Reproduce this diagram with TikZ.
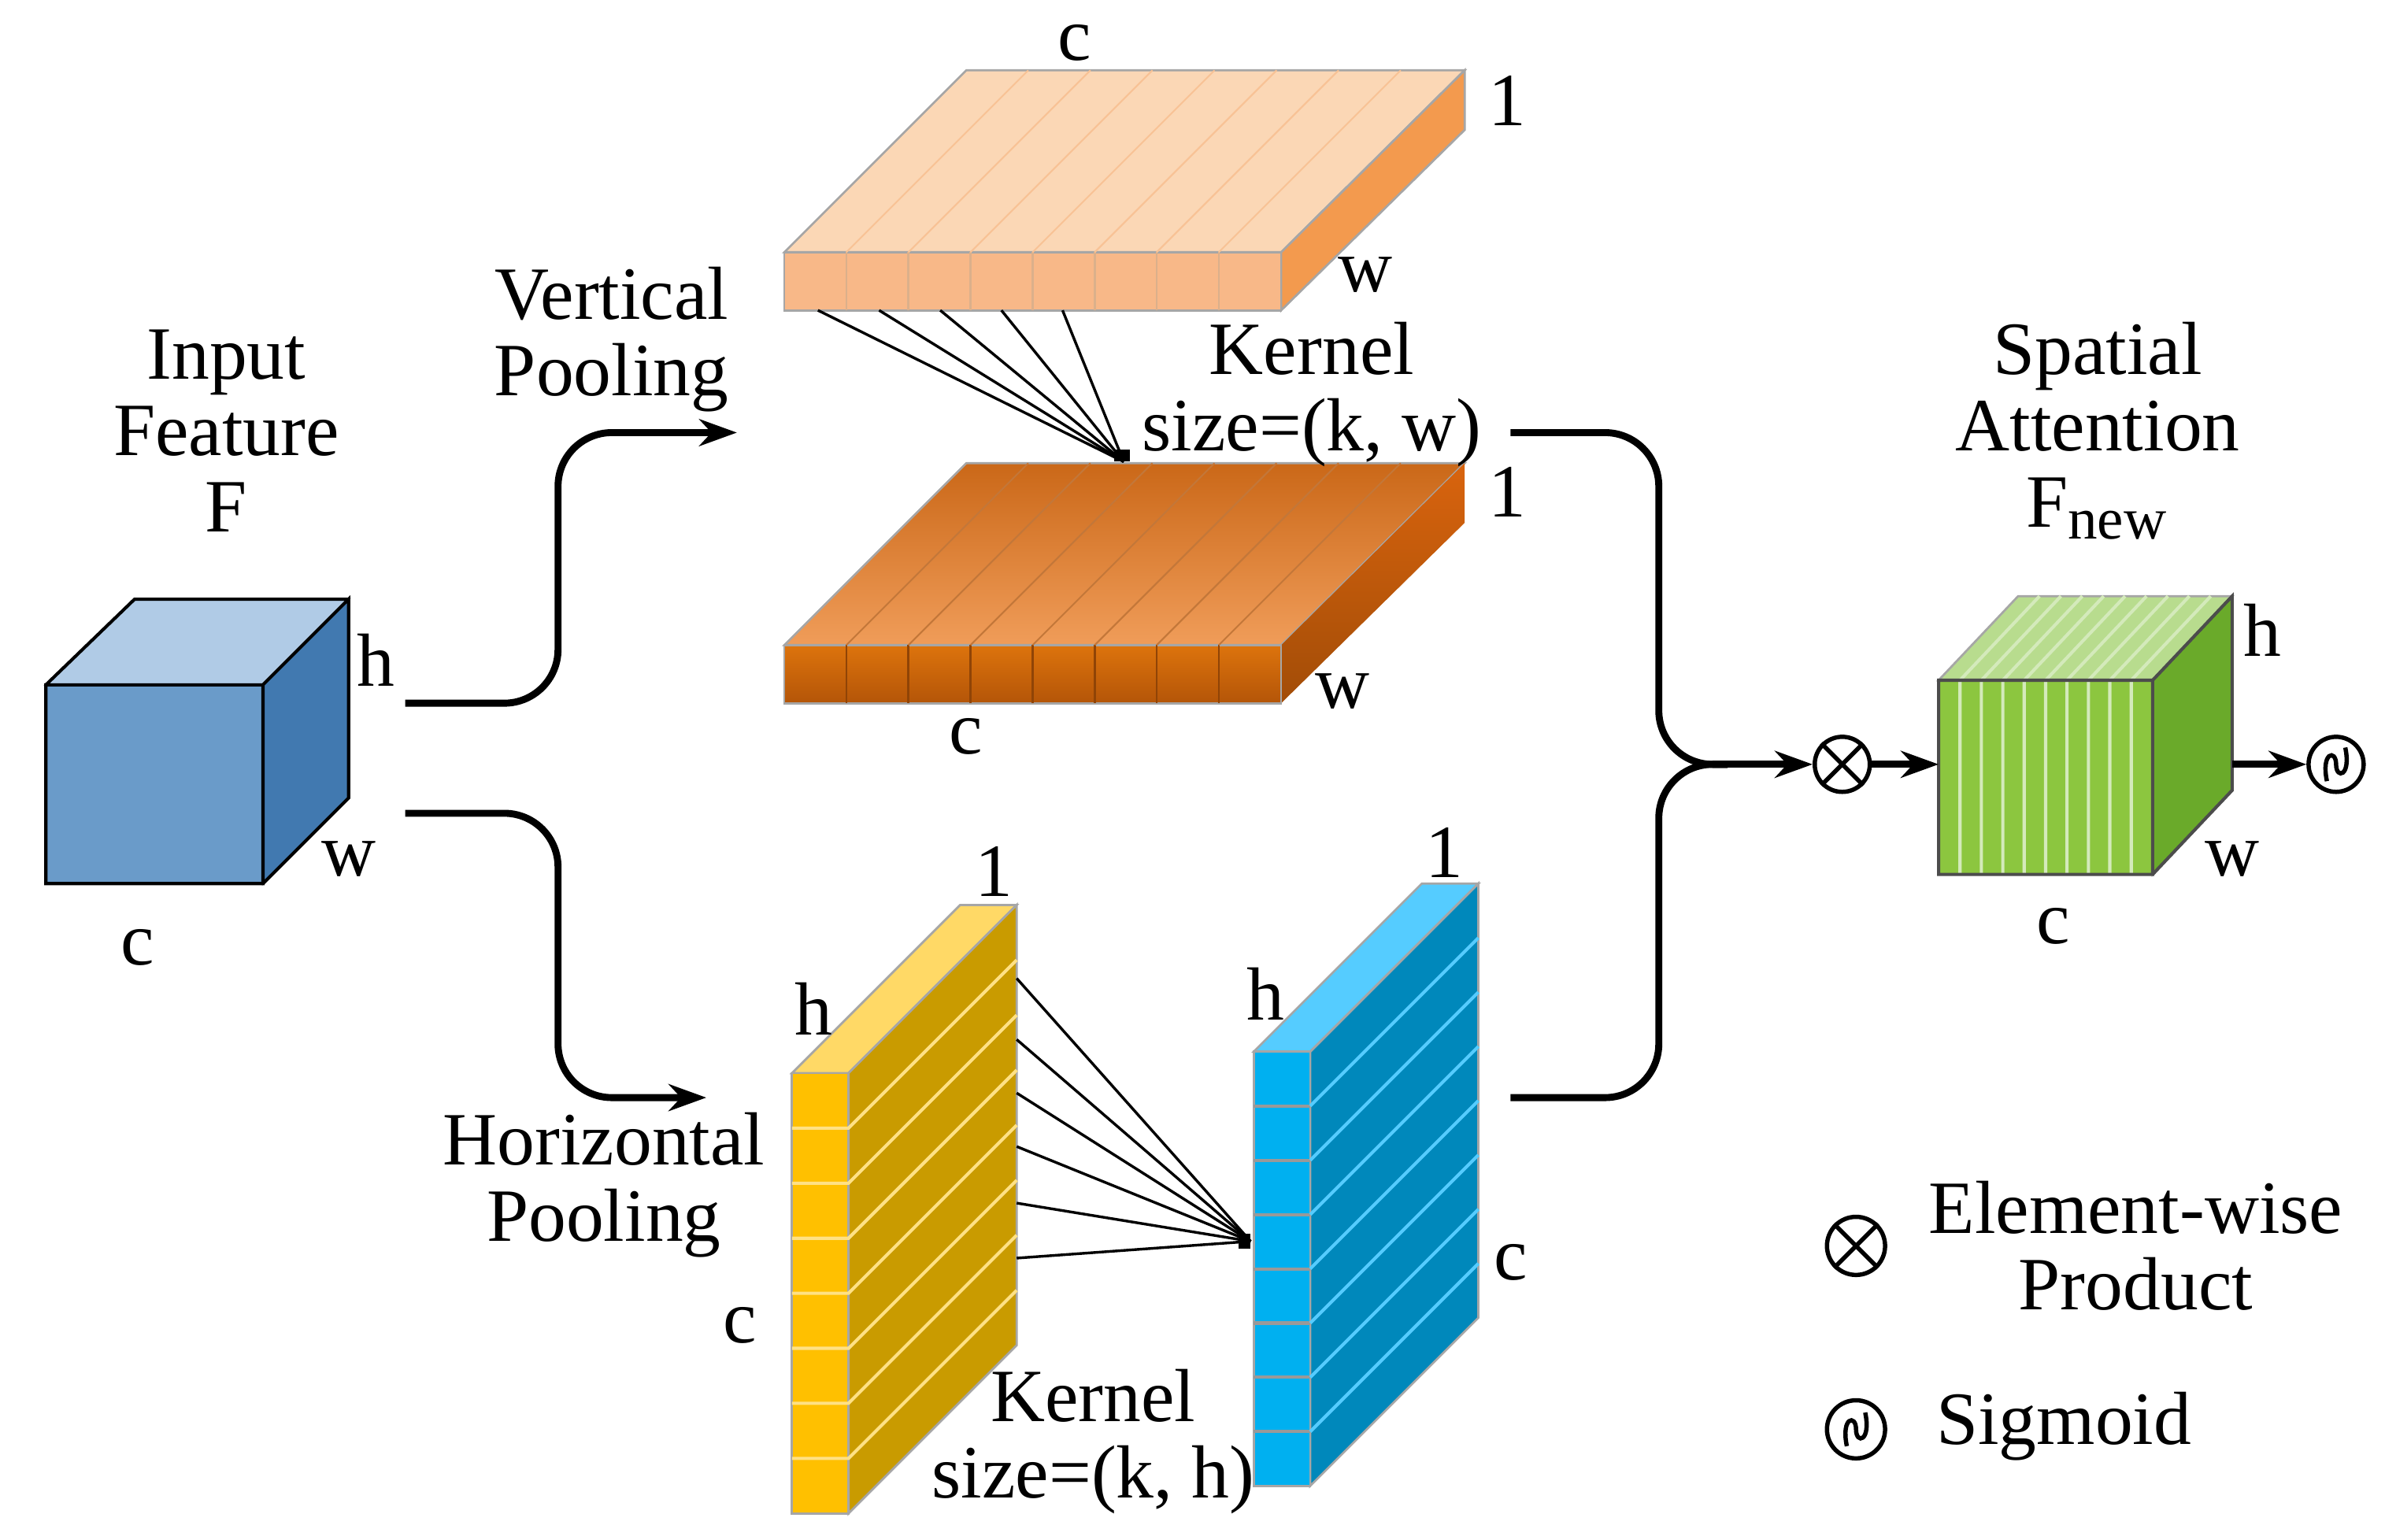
\documentclass[tikz,border=0pt]{standalone}
\usepackage{fontspec}
\setmainfont{Liberation Serif}
\usetikzlibrary{arrows.meta}
\definecolor{cubeF}{HTML}{6A9BC9}\definecolor{cubeT}{HTML}{B0CBE6}\definecolor{cubeS}{HTML}{4179B0}
\definecolor{lpF}{HTML}{F8B888}\definecolor{lpT}{HTML}{FBD7B5}\definecolor{lpS}{HTML}{F39A4E}
\definecolor{dpF}{HTML}{D9640E}\definecolor{dpT}{HTML}{EC8430}\definecolor{dpS}{HTML}{B45508}
\definecolor{yF}{HTML}{FFC000}\definecolor{yT}{HTML}{FFD966}\definecolor{yS}{HTML}{C99B00}
\definecolor{bF}{HTML}{00B0F0}\definecolor{bT}{HTML}{55CCFF}\definecolor{bS}{HTML}{0088BB}
\definecolor{gF}{HTML}{8CC63F}\definecolor{gT}{HTML}{B8DC8E}\definecolor{gS}{HTML}{6AAA2A}
\begin{document}
\begin{tikzpicture}[x=0.01cm,y=-0.01cm,
  lbl/.style={font=\fontsize{14}{14}\selectfont,inner sep=0},
  txt/.style={font=\fontsize{14}{14.2}\selectfont,align=center,inner sep=0},
  conn/.style={line width=1.3pt,rounded corners=10pt},
  arr/.style={-{Stealth[length=7pt,width=5pt]}},
  fan/.style={line width=0.5pt},
  face/.style={draw=gray!70,line width=0.4pt}]
\useasboundingbox (0,0) rectangle (1560,1007);
% input cube
\fill[cubeT,face] (30,448)--(88,392)--(228,392)--(172,448)--cycle;
\fill[cubeS,face] (172,448)--(228,392)--(228,522)--(172,578)--cycle;
\fill[cubeF,face] (30,448) rectangle (172,578);
\draw[line width=0.6pt] (30,448) rectangle (172,578) (172,448)--(228,392)--(228,522)--(172,578) (30,448)--(88,392)--(228,392);
\node[txt] (inF) at (148,282) {Input\\Feature\\F};
\node[lbl] (ih) at (246,432) {h};
\node[lbl] (iw) at (228,562) {w};
\node[lbl] (ic) at (90,620) {c};
% top light plate
\fill[lpT,face] (513,165)--(632,46)--(958,46)--(838,165)--cycle;
\fill[lpS,face] (838,165)--(958,46)--(958,85)--(838,203)--cycle;
\fill[lpF,face] (513,165) rectangle (838,203);
\foreach \i in {1,...,7}{\draw[draw=lpS!80!black!60,line width=0.4pt] ({513+\i*40.6},165)--++(0,38);
  \draw[draw=lpS!60,line width=0.3pt] ({513+\i*40.6},165)--++(119,-119);}
% bottom dark plate
\shade[top color=dpS!60!dpT,bottom color=dpT!80!white] (513,422)--(632,303)--(958,303)--(838,422)--cycle;
\draw[face] (513,422)--(632,303)--(958,303)--(838,422)--cycle;
\shade[top color=dpF,bottom color=dpS!90!black] (838,422)--(958,303)--(958,342)--(838,460)--cycle;
\shade[top color=dpF!90!yellow,bottom color=dpS] (513,422) rectangle (838,460);
\draw[face] (513,422) rectangle (838,460);
\foreach \i in {1,...,7}{\draw[draw=dpS!80!black,line width=0.4pt] ({513+\i*40.6},422)--++(0,38);
  \draw[draw=dpS!80,line width=0.3pt] ({513+\i*40.6},422)--++(119,-119);}
\coordinate (vk) at (735,302);
\foreach \x in {535,575,615,655,695}{\draw[fan] (\x,203)--(vk);}
\fill (vk) ++(-6,-8) rectangle ++(10,8);
\node[lbl] (tc) at (703,28) {c};
\node[lbl] (t1) at (986,66) {1};
\node[lbl] (tw) at (893,180) {w};
\node[txt] (vkl) at (858,258) {Kernel\\size=(k, w)};
\node[lbl] (b1) at (986,322) {1};
\node[lbl] (bw) at (878,452) {w};
\node[lbl] (bc) at (632,482) {c};
\node[txt] (vp) at (400,222) {Vertical\\Pooling};
% yellow slab
\fill[yT,face] (518,702)--(628,592)--(665,592)--(555,702)--cycle;
\fill[yS,face] (555,702)--(665,592)--(665,880)--(555,990)--cycle;
\fill[yF,face] (518,702) rectangle (555,990);
\foreach \i in {1,...,7}{\draw[draw=yT!80,line width=0.6pt] (518,{702+\i*36})--++(37,0)--++(110,-110);}
% blue slab
\fill[bT,face] (820,688)--(930,578)--(967,578)--(857,688)--cycle;
\fill[bS,face] (857,688)--(967,578)--(967,862)--(857,972)--cycle;
\fill[bF,face] (820,688) rectangle (857,972);
\foreach \i in {1,...,7}{\draw[draw=gray!80,line width=0.6pt] (820,{688+\i*35.5})--++(37,0);
  \draw[draw=bT,line width=0.6pt] (857,{688+\i*35.5})--++(110,-110);}
\coordinate (hk) at (818,812);
\foreach \y in {640,680,715,750,787,823}{\draw[fan] (665,\y)--(hk);}
\fill (hk) ++(-8,-5) rectangle ++(8,10);
\node[lbl] (y1) at (650,570) {1};
\node[lbl] (yh) at (532,660) {h};
\node[lbl] (yc) at (484,867) {c};
\node[lbl] (c1) at (945,558) {1};
\node[lbl] (ch) at (828,650) {h};
\node[lbl] (cc) at (988,826) {c};
\node[txt] (hkl) at (715,943) {Kernel\\size=(k, h)};
\node[txt] (hp) at (395,775) {Horizontal\\Pooling};
% connectors from input
\coordinate (s1) at (265,460); \coordinate (e1) at (482,283);
\coordinate (s2) at (265,532); \coordinate (e2) at (462,718);
\draw[conn,arr] (s1) -- (365,460) -- (365,283) -- (e1);
\draw[conn,arr] (s2) -- (365,532) -- (365,718) -- (e2);
% merge
\node[draw,circle,line width=0.8pt,inner sep=0,minimum size=0.36cm] (prod) at (1205,500) {};
\draw[line width=0.8pt] (prod.north west)--(prod.south east) (prod.north east)--(prod.south west);
\coordinate (m1) at (988,283); \coordinate (m2) at (988,718);
\draw[conn] (m1) -- (1085,283) -- (1085,500) -- (1130,500);
\draw[conn] (m2) -- (1085,718) -- (1085,500) -- (1130,500);
\draw[line width=1.3pt,arr] (1120,500) -- (prod);
% green cube
\fill[gT,face] (1268,445)--(1320,390)--(1460,390)--(1408,445)--cycle;
\fill[gS,face] (1408,445)--(1460,390)--(1460,517)--(1408,572)--cycle;
\fill[gF,face] (1268,445) rectangle (1408,572);
\foreach \i in {1,...,9}{\draw[draw=gT!60!white,line width=0.6pt] ({1268+\i*14},445)--++(0,127) ({1268+\i*14},445)--++(52,-55);}
\draw[line width=0.6pt,gray!60!black] (1268,445) rectangle (1408,572) (1408,445)--(1460,390)--(1460,517)--(1408,572);
\coordinate (gin) at (1268,500);
\draw[line width=1.3pt,arr] (prod) -- (gin);
\node[draw,circle,line width=0.8pt,inner sep=0,minimum size=0.36cm] (sig) at (1528,500) {};
\draw[line width=0.8pt] (1522,511) .. controls (1518,492) and (1528,490) .. (1528,500) .. controls (1528,510) and (1538,508) .. (1534,489);
\draw[line width=1.3pt,arr] (1460,500) -- (sig);
\node[txt] (sa) at (1372,282) {Spatial\\Attention\\F\textsubscript{\fontsize{11}{12}\selectfont new}};
\node[lbl] (gh) at (1480,412) {h};
\node[lbl] (gw) at (1460,562) {w};
\node[lbl] (gc) at (1343,606) {c};
% legend
\node[draw,circle,line width=0.8pt,inner sep=0,minimum size=0.38cm] (lp) at (1214,815) {};
\draw[line width=0.8pt] (lp.north west)--(lp.south east) (lp.north east)--(lp.south west);
\node[txt] (lpt) at (1397,815) {Element-wise\\Product};
\node[draw,circle,line width=0.8pt,inner sep=0,minimum size=0.38cm] (ls) at (1214,935) {};
\draw[line width=0.8pt] (1208,946) .. controls (1204,927) and (1214,925) .. (1214,935) .. controls (1214,945) and (1224,943) .. (1220,924);
\node[txt] (lst) at (1350,933) {Sigmoid};
\end{tikzpicture}
\end{document}
